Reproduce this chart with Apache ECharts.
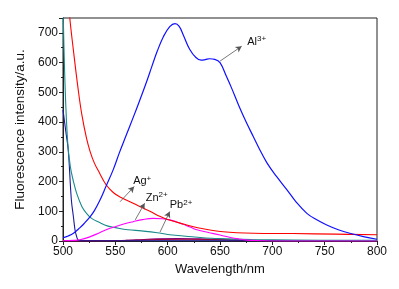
<!DOCTYPE html>
<html><head><meta charset="utf-8">
<script src="https://cdn.jsdelivr.net/npm/echarts@6/dist/echarts.min.js"></script>
<style>html,body{margin:0;padding:0;background:#fff}#c{width:399px;height:289px}</style>
</head><body><div id="c"></div>
<script>
// Al3+ (blue)
const alWl = [500,505,510,516,520,526,530,535,541,548,554,560,567,573,579,585,590,596,602,607,611,615,621,627,632,636,640,645,650,656,661,668,675,682,688,695,704,714,723,733,742,752,763,774,787,800];
const alVal = [11,17,26,44,58,82,102,135,183,240,298,352,415,470,527,588,638,688,721,731,722,692,645,617,608,610,613,611,600,555,515,455,400,350,307,262,217,172,130,93,72,54,38,26,15,6];
// Ag+ (red)
const agWl = [503,506.5,510,514.5,518,522.5,526,530,535,541,548,555,567,583,593,600,615,631,653,682,720,760,800];
const agVal = [900,750,640,510,425,345,300,262,228,190,163,147,127,100,82,72,57,43,31,26,25,23,21];
// Pb2+ (teal)
const pbWl = [500,502,504.5,507,510,513,518,522,527,535,543,550,562,575,590,600,615,631,650,680,720,800];
const pbVal = [800,520,330,250,200,161,116,95,77,62,50,45,38,34,28,22,17,12,8,5,3,2];
// Zn2+ (magenta)
const znWl = [500,510,516,525,535,543,550,558,567,576,586,595,602,608,615,622,628,640,650,660,668,676,690,700,800];
const znVal = [1,2,4,13,28,40,48,57,65,72,76,75,71,65,56,46,38,28,20,12,7,3,1,0,0];
// other ions (navy, purple, dark red)
const navyWl = [500,503,505,508,510,511.5,513,514.6,517,600,700,800];
const navyVal = [441,360,307,138,80,37,15,3,1,1,1,1];
const purWl = [500,550,570,590,610,630,660,700,800];
const purVal = [0,1,4,7,8,7,4,1,0];
const drWl = [500,560,590,620,650,700,800];
const drVal = [0,2,5,6,4,1,0];

const xTicks = [500,550,600,650,700,750,800];
const yTicks = [0,100,200,300,400,500,600,700];

function pairs(w, v){ return w.map((x,i)=>[x, v[i]]); }

const chart = echarts.init(document.getElementById('c'), null, {renderer:'canvas'});
const font = 'Liberation Sans, Arial, sans-serif';
function line(name, w, v, color, width, z){
  return {name, type:'line', data:pairs(w,v), smooth:0.4, showSymbol:false, symbol:'none',
    lineStyle:{color, width:width||1.1}, itemStyle:{color}, clip:true, z:z||2, animation:false};
}
const arrowCfg = (a,b)=>({silent:true, symbol:['none','arrow'], symbolSize:[5,6], animation:false,
  lineStyle:{color:'#555', width:0.8, type:'solid'}, label:{show:false},
  data:[[{coord:a},{coord:b}]]});

const sPur = line('purple', purWl, purVal, '#800080', 1.1, 2);
const sDr = line('darkred', drWl, drVal, '#a0003c', 1.1, 2);
const sNavy = line('navy', navyWl, navyVal, '#1a1aa0', 1.1, 3);
const sPb = line('Pb2+', pbWl, pbVal, '#1a8a8a', 1.1, 3);
sPb.markLine = arrowCfg([592.7,30],[602,99]);
const sZn = line('Zn2+', znWl, znVal, '#ff00ff', 1.1, 3);
sZn.markLine = arrowCfg([569,71],[578,127]);
const sAg = line('Ag+', agWl, agVal, '#ff0000', 1.1, 3);
sAg.markLine = arrowCfg([554.5,132],[568,183]);
const sAl = line('Al3+', alWl, alVal, '#1010ff', 1.2, 4);
sAl.markLine = arrowCfg([650,605],[670.7,655]);

chart.setOption({
  backgroundColor:'#fff',
  animation:false,
  grid:{left:63, right:22, top:18, bottom:48, show:true, borderColor:'#222', borderWidth:1, backgroundColor:'transparent'},
  xAxis:{type:'value', min:500, max:800, interval:50,
    name:'Wavelength/nm', nameLocation:'middle', nameGap:19,
    nameTextStyle:{fontFamily:font, fontSize:13, color:'#111'},
    axisLine:{show:true, onZero:false, lineStyle:{color:'#222', width:1}},
    axisTick:{show:true, length:4, inside:false, lineStyle:{color:'#222'}},
    minorTick:{show:true, splitNumber:2, length:2, lineStyle:{color:'#222'}},
    splitLine:{show:false},
    axisLabel:{fontFamily:font, fontSize:12, color:'#111', margin:5,
      formatter:v=> xTicks.includes(v)? String(v):''}},
  yAxis:[{type:'value', min:0, max:750, interval:100,
    name:'Fluorescence intensity/a.u.', nameLocation:'middle', nameGap:36, nameRotate:90,
    nameTextStyle:{fontFamily:font, fontSize:13.5, color:'#111'},
    axisLine:{show:true, onZero:false, lineStyle:{color:'#222', width:1}},
    axisTick:{show:true, length:4, lineStyle:{color:'#222'}},
    splitLine:{show:false},
    axisLabel:{fontFamily:font, fontSize:12, color:'#111', margin:5,
      formatter:v=> yTicks.includes(v)? String(v):''}},
   {type:'value', min:0, max:750, interval:50, position:'left',
    axisLine:{show:false}, axisTick:{show:true, length:2, lineStyle:{color:'#222'}},
    axisLabel:{show:false}, splitLine:{show:false}}],
  series:[sPur, sDr, sNavy, sPb, sZn, sAg, sAl]
});

// Annotation labels positioned through the chart's own coordinate system
const labels = [
  {pos:[676,672], base:'Al', sup:'3+'},
  {pos:[567,202], base:'Ag', sup:'+'},
  {pos:[579,147], base:'Zn', sup:'2+'},
  {pos:[602,122], base:'Pb', sup:'2+'}
];
chart.setOption({graphic: labels.map(l=>{
  const p = chart.convertToPixel({gridIndex:0}, l.pos);
  return {type:'text', x:p[0], y:p[1], z:10, silent:true,
    style:{text:'{b|'+l.base+'}{s|'+l.sup+'}', verticalAlign:'middle', align:'left',
      rich:{b:{fontFamily:font, fontSize:11, fill:'#111', verticalAlign:'bottom', lineHeight:12},
            s:{fontFamily:font, fontSize:8, fill:'#111', verticalAlign:'top', lineHeight:8, padding:[0,0,6,0]}}}};
})});
</script></body></html>
